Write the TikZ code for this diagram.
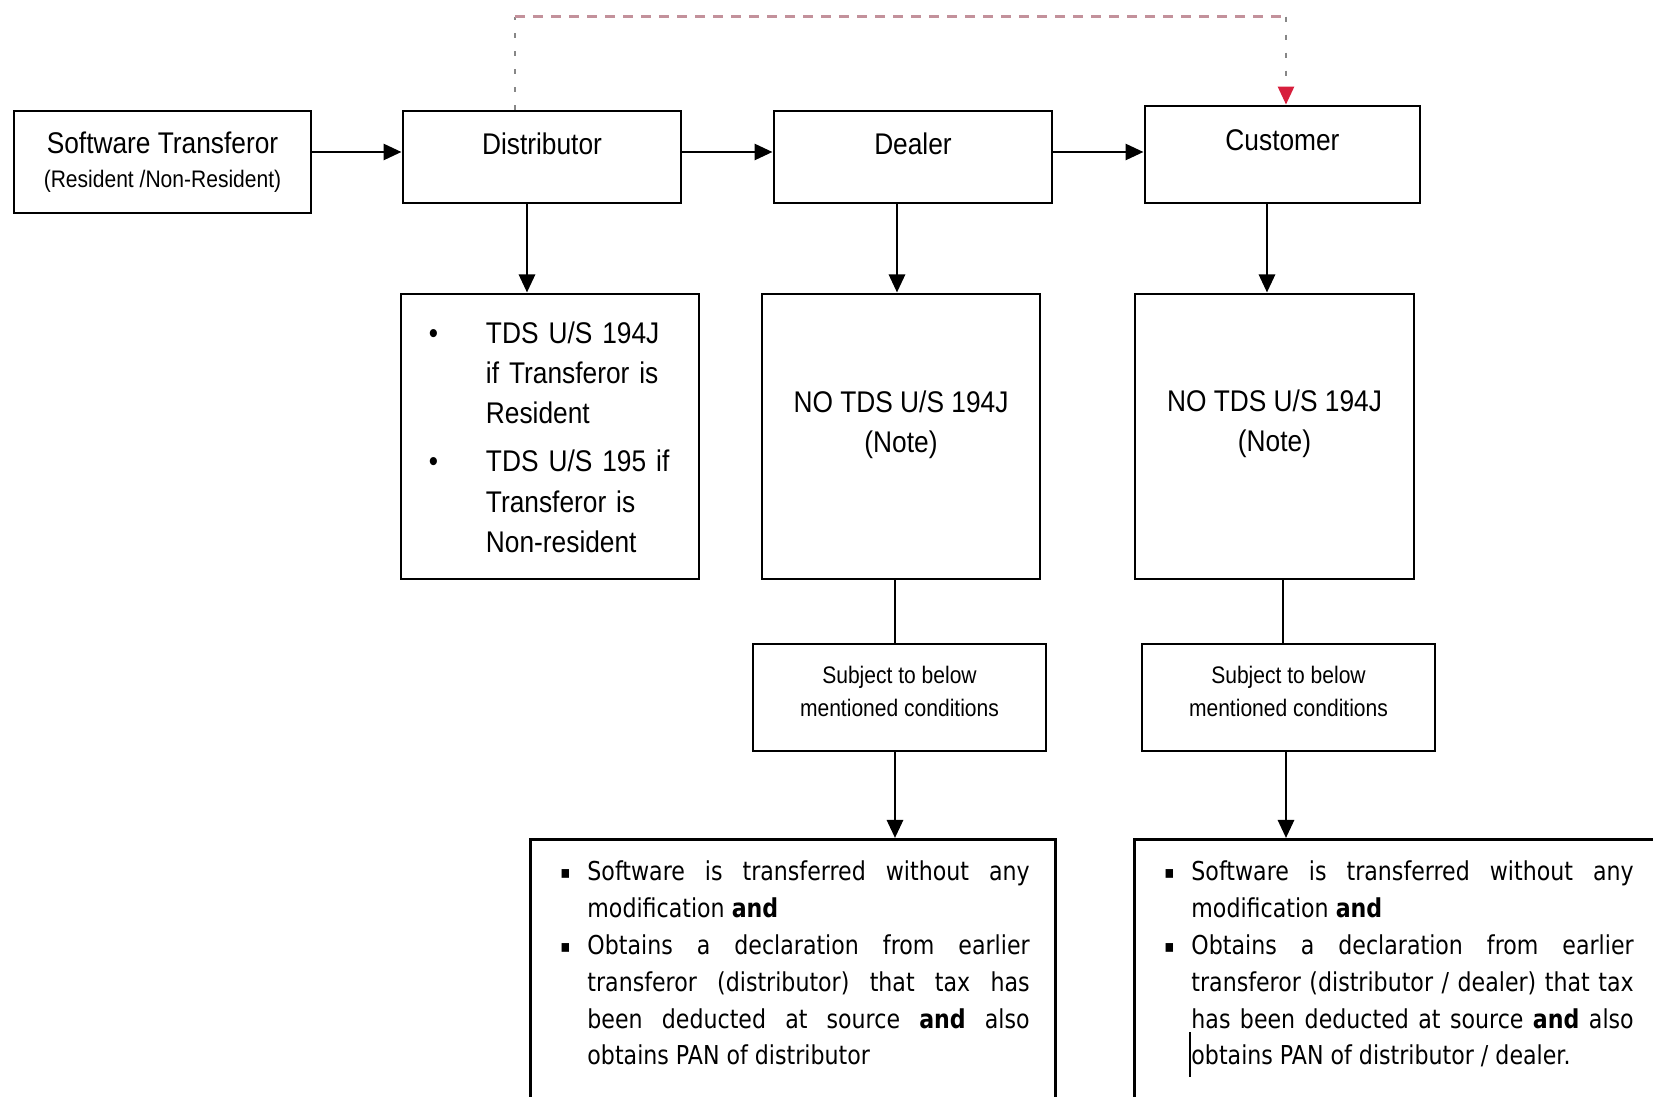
\documentclass[tikz,border=0pt]{standalone}
\usepackage{fontspec}
\setmainfont{Liberation Sans}[FakeStretch=0.88]
\newfontfamily\notefont{DejaVu Sans}[FakeStretch=0.85]
\usetikzlibrary{arrows.meta}

\definecolor{linkgray}{RGB}{135,135,135}
\definecolor{linkpink}{RGB}{195,145,155}
\definecolor{tipred}{RGB}{215,30,60}

\newcommand{\bigtxt}{\fontsize{8.5pt}{11.4pt}\selectfont}
\newcommand{\smalltxt}{\fontsize{6.8pt}{9.4pt}\selectfont}
\newcommand{\notetxt}{\notefont\fontsize{7.4pt}{10.5pt}\selectfont}
\newcommand{\tdsitem}[1]{\par\noindent\hangindent=0.57cm\hangafter=1\makebox[0.57cm][l]{\textbullet}#1}
\newcommand{\noteitem}[1]{\par\noindent\hangindent=0.31cm\hangafter=1\makebox[0.31cm][l]{\hspace{0.04cm}\raisebox{0.06em}{\fontsize{5pt}{5pt}\selectfont ▪}}#1}
\hbadness=10000

\begin{document}
\begin{tikzpicture}[x=0.01cm, y=-0.01cm, >={Triangle[length=1.8mm,width=1.6mm]},
	box/.style={draw, thick, inner sep=0pt, font=\bigtxt},
	topbox/.style={box, minimum width=2.78cm, minimum height=0.92cm, text height=0.22cm, text depth=0.26cm},
	tallbox/.style={box, minimum height=2.85cm},
	subjbox/.style={box, minimum width=2.93cm, minimum height=1.07cm},
	txt/.style={inner sep=0pt, font=\bigtxt, align=center},
	notebox/.style={draw, thick, anchor=north west, text width=4.73cm, inner xsep=0.26cm, inner ysep=0.04cm, align=justify, font=\notetxt},
	linkv/.style={linkgray, thick, dash pattern=on 0.05cm off 0.13cm},
	linkh/.style={linkpink, thick, dash pattern=on 0.1cm off 0.08cm}]
	\useasboundingbox (0,0) rectangle (1653,1097);
	\clip (0,0) rectangle (1653,1097);
	% top row
	\node[box, minimum width=2.97cm, minimum height=1.02cm, align=center] (trans) at (162.5,162) {Software Transferor\\[-0.06cm]{\smalltxt (Resident /Non-Resident)}};
	\node[topbox] (dist) at (542,157) {Distributor};
	\node[topbox] (deal) at (913,157) {Dealer};
	\node[topbox, minimum width=2.75cm, minimum height=0.97cm, text depth=0.30cm] (cust) at (1282.5,154.5) {Customer};
	\draw[->, thick] ([yshift=0.1cm]trans.east) -- ([yshift=0.1cm]trans.east -| dist.west);
	\draw[->, thick] ([yshift=0.05cm]dist.east) -- ([yshift=0.05cm]dist.east -| deal.west);
	\draw[->, thick] ([yshift=0.05cm]deal.east) -- ([yshift=0.05cm]deal.east -| cust.west);
	% dashed link distributor -> customer
	\coordinate (cr) at ([xshift=0.035cm]cust.north);
	\draw[linkv] ([xshift=-0.27cm]dist.north) -- ++(0,-93) coordinate (dl);
	\draw[linkh] (dl) -- (dl -| cr);
	\draw[linkv, -{Triangle[length=1.8mm,width=1.6mm,color=tipred]}] (dl -| cr) -- (cr);
	% TDS boxes
	\node[tallbox, minimum width=2.98cm] (tds) at (550,436.5) {};
	\node[txt, text width=2.42cm, align=left] (tdstxt) at (550,428) {\tdsitem{TDS U/S 194J\newline if Transferor is\newline Resident}\par\vspace{0.08cm}\tdsitem{TDS U/S 195 if\newline Transferor is\newline Non-resident}\par};
	\node[tallbox, minimum width=2.78cm] (ndeal) at (901,436.5) {};
	\node[txt] (ndealtxt) at (901,425) {NO TDS U/S 194J\\(Note)};
	\node[tallbox, minimum width=2.79cm] (ncust) at (1274.5,436.5) {};
	\node[txt] (ncusttxt) at (1274.5,423.5) {NO TDS U/S 194J\\(Note)};
	\draw[->, thick] ([xshift=-0.15cm]dist.south) -- ([xshift=-0.15cm]dist.south |- tds.north);
	\draw[->, thick] ([xshift=-0.16cm]deal.south) -- ([xshift=-0.16cm]deal.south |- ndeal.north);
	\draw[->, thick] ([xshift=-0.155cm]cust.south) -- ([xshift=-0.155cm]cust.south |- ncust.north);
	% conditions
	\node[subjbox] (subj1) at (899.5,697.5) {};
	\node[txt, font=\smalltxt] (subj1txt) at (899.5,691.5) {Subject to below\\mentioned conditions};
	\node[subjbox] (subj2) at (1288.5,697.5) {};
	\node[txt, font=\smalltxt] (subj2txt) at (1288.5,691.5) {Subject to below\\mentioned conditions};
	\draw[thick] ([xshift=-0.06cm]ndeal.south) -- ([xshift=-0.06cm]ndeal.south |- subj1.north);
	\draw[thick] ([xshift=0.085cm]ncust.south) -- ([xshift=0.085cm]ncust.south |- subj2.north);
	\node[notebox] (bot1) at (529,838) {\noteitem{Software is transferred without any\linebreak modification \textbf{and}}\noteitem{Obtains a declaration from earlier\linebreak transferor (distributor) that tax has\linebreak been deducted at source \textbf{and} also\linebreak obtains PAN of distributor}\par\noindent\rule{0pt}{1cm}};
	\node[notebox] (bot2) at (1133,838) {\noteitem{Software is transferred without any\linebreak modification \textbf{and}}\noteitem{Obtains a declaration from earlier\linebreak transferor (distributor / dealer) that tax\linebreak has been deducted at source \textbf{and} also\linebreak obtains PAN of distributor / dealer.}\par\noindent\rule{0pt}{1cm}};
	\draw[->, thick] ([xshift=-0.045cm]subj1.south) -- ([xshift=-0.045cm]subj1.south |- bot1.north);
	\draw[->, thick] ([xshift=-0.025cm]subj2.south) -- ([xshift=-0.025cm]subj2.south |- bot2.north);
	\draw[thin] (1190,1032) -- (1190,1077);
\end{tikzpicture}
\end{document}
